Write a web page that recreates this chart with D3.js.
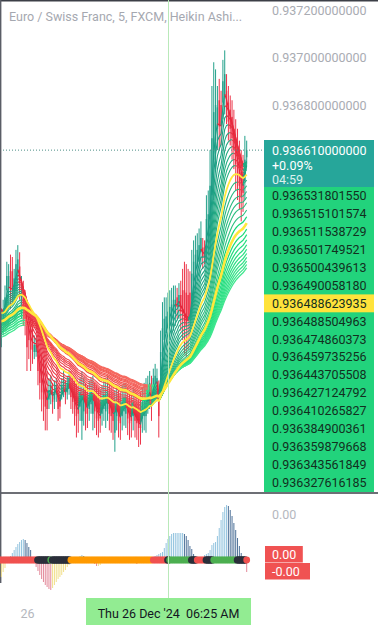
<!DOCTYPE html>
<html lang="en">
<head>
<meta charset="UTF-8">
<title>EURCHF 5m Heikin Ashi</title>
<script src="https://cdn.jsdelivr.net/npm/d3@7"></script>
<style>
body { margin: 0; background: #fff; }
svg { display: block; font-family: Roboto, "Noto Sans", sans-serif; }
</style>
</head>
<body>
<div id="chart"></div>
<script>

// heikin ashi bars, 5 min, first bar 25 Dec 22:45 UTC
var barStart = Date.UTC(2024, 11, 25, 22, 45);
var barMinutes = 5;

var haOpen = [
  0.93584,0.93583,0.93588,0.93594,0.93602,0.93603,0.93610,0.93610,0.93602,0.93607,
  0.93609,0.93612,0.93595,0.93601,0.93597,0.93589,0.93589,0.93586,0.93584,0.93576,
  0.93576,0.93575,0.93571,0.93568,0.93565,0.93562,0.93560,0.93556,0.93558,0.93559,
  0.93556,0.93558,0.93558,0.93558,0.93559,0.93560,0.93561,0.93559,0.93561,0.93563,
  0.93561,0.93559,0.93557,0.93557,0.93553,0.93547,0.93551,0.93558,0.93557,0.93552,
  0.93554,0.93550,0.93558,0.93556,0.93555,0.93555,0.93550,0.93552,0.93551,0.93552,
  0.93558,0.93556,0.93554,0.93542,0.93549,0.93554,0.93553,0.93549,0.93551,0.93550,
  0.93555,0.93554,0.93553,0.93549,0.93554,0.93553,0.93551,0.93552,0.93548,0.93549,
  0.93549,0.93555,0.93557,0.93560,0.93560,0.93562,0.93560,0.93557,0.93566,0.93574,
  0.93581,0.93584,0.93586,0.93587,0.93589,0.93591,0.93592,0.93599,0.93595,0.93600,
  0.93602,0.93602,0.93601,0.93600,0.93601,0.93598,0.93606,0.93609,0.93612,0.93614,
  0.93618,0.93620,0.93620,0.93622,0.93625,0.93632,0.93642,0.93657,0.93665,0.93670,
  0.93682,0.93680,0.93681,0.93684,0.93686,0.93681,0.93678,0.93675,0.93670,0.93665,
  0.93661,0.93656,0.93652,0.93652,0.93648,0.93658
];
var haHigh = [
  0.93596,0.93593,0.93598,0.93604,0.93614,0.93613,0.93617,0.93616,0.93611,0.93619,
  0.93621,0.93618,0.93608,0.93606,0.93602,0.93598,0.93596,0.93594,0.93590,0.93583,
  0.93582,0.93580,0.93577,0.93575,0.93573,0.93571,0.93568,0.93565,0.93566,0.93563,
  0.93564,0.93565,0.93562,0.93563,0.93565,0.93568,0.93564,0.93566,0.93568,0.93568,
  0.93566,0.93565,0.93564,0.93563,0.93565,0.93568,0.93565,0.93563,0.93562,0.93564,
  0.93565,0.93566,0.93563,0.93562,0.93561,0.93560,0.93562,0.93564,0.93565,0.93566,
  0.93563,0.93562,0.93561,0.93560,0.93562,0.93560,0.93559,0.93562,0.93563,0.93563,
  0.93561,0.93560,0.93559,0.93561,0.93560,0.93559,0.93558,0.93559,0.93561,0.93563,
  0.93565,0.93566,0.93568,0.93566,0.93569,0.93571,0.93569,0.93564,0.93585,0.93597,
  0.93599,0.93599,0.93601,0.93602,0.93603,0.93604,0.93604,0.93603,0.93605,0.93606,
  0.93611,0.93614,0.93613,0.93611,0.93610,0.93619,0.93623,0.93625,0.93626,0.93628,
  0.93631,0.93624,0.93623,0.93642,0.93644,0.93661,0.93688,0.93698,0.93695,0.93688,
  0.93691,0.93686,0.93699,0.93703,0.93693,0.93688,0.93684,0.93682,0.93678,0.93674,
  0.93670,0.93665,0.93661,0.93659,0.93667,0.93665
];
var haLow = [
  0.93579,0.93578,0.93583,0.93590,0.93598,0.93599,0.93594,0.93596,0.93598,0.93602,
  0.93604,0.93598,0.93590,0.93587,0.93583,0.93568,0.93573,0.93568,0.93571,0.93573,
  0.93574,0.93562,0.93556,0.93551,0.93547,0.93543,0.93543,0.93552,0.93554,0.93550,
  0.93552,0.93555,0.93547,0.93548,0.93556,0.93557,0.93554,0.93556,0.93558,0.93552,
  0.93550,0.93545,0.93540,0.93542,0.93547,0.93539,0.93545,0.93543,0.93544,0.93547,
  0.93550,0.93543,0.93544,0.93541,0.93540,0.93542,0.93545,0.93547,0.93544,0.93547,
  0.93543,0.93542,0.93539,0.93534,0.93543,0.93540,0.93539,0.93543,0.93545,0.93544,
  0.93541,0.93539,0.93540,0.93543,0.93540,0.93539,0.93536,0.93537,0.93542,0.93543,
  0.93542,0.93550,0.93552,0.93547,0.93556,0.93558,0.93557,0.93540,0.93558,0.93564,
  0.93573,0.93577,0.93579,0.93581,0.93583,0.93585,0.93587,0.93590,0.93590,0.93585,
  0.93581,0.93575,0.93574,0.93577,0.93581,0.93590,0.93598,0.93602,0.93606,0.93608,
  0.93613,0.93611,0.93613,0.93614,0.93617,0.93619,0.93623,0.93640,0.93653,0.93661,
  0.93661,0.93663,0.93674,0.93676,0.93672,0.93665,0.93663,0.93657,0.93653,0.93644,
  0.93640,0.93636,0.93631,0.93635,0.93640,0.93655
];
var haClose = [
  0.93590,0.93588,0.93593,0.93599,0.93608,0.93608,0.93602,0.93602,0.93607,0.93613,
  0.93615,0.93605,0.93602,0.93594,0.93590,0.93578,0.93581,0.93577,0.93577,0.93579,
  0.93579,0.93568,0.93563,0.93559,0.93556,0.93553,0.93552,0.93560,0.93562,0.93555,
  0.93560,0.93562,0.93552,0.93553,0.93562,0.93564,0.93558,0.93563,0.93565,0.93557,
  0.93555,0.93552,0.93549,0.93550,0.93559,0.93558,0.93558,0.93550,0.93550,0.93558,
  0.93560,0.93558,0.93551,0.93548,0.93547,0.93548,0.93556,0.93558,0.93558,0.93559,
  0.93550,0.93549,0.93547,0.93551,0.93555,0.93547,0.93546,0.93555,0.93557,0.93557,
  0.93548,0.93546,0.93547,0.93555,0.93547,0.93546,0.93544,0.93544,0.93555,0.93556,
  0.93557,0.93560,0.93563,0.93554,0.93565,0.93566,0.93565,0.93549,0.93576,0.93586,
  0.93590,0.93591,0.93593,0.93595,0.93596,0.93598,0.93598,0.93595,0.93600,0.93593,
  0.93592,0.93589,0.93587,0.93589,0.93591,0.93609,0.93614,0.93617,0.93619,0.93621,
  0.93624,0.93616,0.93616,0.93632,0.93634,0.93646,0.93666,0.93677,0.93680,0.93679,
  0.93671,0.93671,0.93690,0.93693,0.93679,0.93673,0.93670,0.93666,0.93661,0.93655,
  0.93650,0.93646,0.93641,0.93643,0.93657,0.93661
];

// ema ribbon: periods and the values each line had at the left edge
var fastPeriods = [4, 6, 8, 10, 12, 14, 16, 18, 20, 22, 25, 28, 31, 34, 37, 40, 44];
var fastStart = [0.93599,0.93598,0.93597,0.93596,0.93595,0.93594,0.93593,0.93592,0.93591,
                 0.93590,0.93593,0.93589,0.93588,0.93587,0.93586,0.93585,0.93584];
var fastYellow = 25;
var slowPeriods = [48, 52, 56, 60, 64, 68, 72, 76, 80, 84, 88, 92];
var slowStart = [0.93590,0.93589,0.93588,0.93588,0.93587,0.93586,0.93586,0.93585,
                 0.93584,0.93584,0.93583,0.93582];
var slowYellow = 52;

// values in the right hand label stack
var lastPrice = 0.93661;
var lastChange = "+0.09%";
var countdown = "04:59";
var ribbonLabels = ["0.936531801550","0.936515101574","0.936511538729","0.936501749521",
  "0.936500439613","0.936490058180","0.936488623935","0.936488504963","0.936474860373",
  "0.936459735256","0.936443705508","0.936427124792","0.936410265827","0.936384900361",
  "0.936359879668","0.936343561849","0.936327616185"];
var yellowLabel = "0.936488623935";
var priceTicks = [0.9368, 0.937, 0.9372];

// oscillator histogram (per bar) and state of the zero line dots
var histValues = [
  -22e-6,-17e-6,-12e-6,-8e-6,-3e-6,2e-6,4e-6,7e-6,10e-6,13e-6,
  16e-6,18e-6,20e-6,21e-6,20e-6,17e-6,13e-6,10e-6,3e-6,-3e-6,
  -7e-6,-11e-6,-15e-6,-19e-6,-22e-6,-25e-6,-27e-6,-29e-6,-30e-6,-28e-6,
  -25e-6,-22e-6,-19e-6,-17e-6,-15e-6,-12e-6,-10e-6,-7e-6,-5e-6,-3e-6,
  -1e-6,1e-6,2e-6,3e-6,4e-6,5e-6,4e-6,3e-6,1e-6,0,
  -1e-6,-2e-6,-4e-6,-6e-6,-6e-6,-5e-6,-3e-6,-2e-6,-1e-6,-2e-6,
  -3e-6,-2e-6,-1e-6,-2e-6,-3e-6,-2e-6,-1e-6,0,-1e-6,-2e-6,
  -3e-6,-2e-6,-1e-6,-2e-6,-3e-6,-4e-6,-3e-6,-2e-6,-1e-6,0,
  1e-6,2e-6,2e-6,2e-6,2e-6,4e-6,5e-6,6e-6,7e-6,8e-6,
  12e-6,17e-6,21e-6,24e-6,26e-6,27e-6,27e-6,27e-6,27e-6,27e-6,
  27e-6,26e-6,24e-6,20e-6,14e-6,11e-6,6e-6,2e-6,0,-1e-6,
  1e-6,3e-6,5e-6,6e-6,7e-6,10e-6,15e-6,17e-6,18e-6,24e-6,
  32e-6,40e-6,48e-6,53e-6,55e-6,54e-6,50e-6,44e-6,37e-6,30e-6,
  22e-6,14e-6,7e-6,2e-6,-4e-6,-12e-6
];
var stateRuns = [["red",21],["dark",7],["green",1],["dark",10],["orange",45],["red",8],
  ["dark",1],["green",12],["dark",3],["red",5],["dark",4],["green",13],["dark",5],["red",1]];
var oscTicks = [0.000046];
var oscLabels = ["0.00", "-0.00"];

var crossBar = 92;

var w = 378, h = 625;
var plotW = 264, mainH = 492;

var times = haClose.map(function(d, i) { return new Date(barStart + i * barMinutes * 60000); });
var n = times.length;

var svg = d3.select("#chart").append("svg")
  .attr("width", w)
  .attr("height", h)
  .style("background", "#fff");

var x = d3.scaleUtc()
  .domain([times[0], times[n - 1]])
  .range([-0.5, 246.7]);

var y = d3.scaleLinear()
  .domain([0.9368, 0.9372])
  .range([105, 10]);

var yOsc = d3.scaleLinear()
  .domain([0, 0.000046])
  .range([560, 514]);

svg.append("clipPath").attr("id", "mainclip")
  .append("rect").attr("width", plotW).attr("height", mainH);

var main = svg.append("g").attr("clip-path", "url(#mainclip)");

// title
svg.append("text")
  .attr("x", 9).attr("y", 21)
  .attr("font-size", 12.5)
  .attr("fill", "#a5a8b0")
  .text("Euro / Swiss Franc, 5, FXCM, Heikin Ashi...");

// candles
var upColor = "#22a08a", downColor = "#ec3348";
var bars = haClose.map(function(c, i) {
  return { t: times[i], o: haOpen[i], h: haHigh[i], l: haLow[i], c: c };
});
var candle = main.append("g").selectAll("g").data(bars).enter().append("g");
candle.append("line")
  .attr("x1", function(d) { return x(d.t); })
  .attr("x2", function(d) { return x(d.t); })
  .attr("y1", function(d) { return y(d.h); })
  .attr("y2", function(d) { return y(d.l); })
  .attr("stroke", function(d) { return d.c >= d.o ? upColor : downColor; })
  .attr("stroke-width", 1);
candle.append("rect")
  .attr("x", function(d) { return x(d.t) - 0.7; })
  .attr("width", 1.4)
  .attr("y", function(d) { return y(Math.max(d.o, d.c)); })
  .attr("height", function(d) { return Math.max(1, Math.abs(y(d.o) - y(d.c))); })
  .attr("fill", function(d) { return d.c >= d.o ? upColor : downColor; });

// ribbon
function ema(values, period, start) {
  var k = 2 / (period + 1), prev = start;
  return values.map(function(v) { prev = prev + k * (v - prev); return prev; });
}

var line = d3.line()
  .x(function(d) { return x(times[d[0]]); })
  .y(function(d) { return y(d[1]); });

function drawLine(g, series, up, down, width) {
  var runs = [], cur = null;
  for (var i = 1; i < series.length; i++) {
    var c = series[i] >= series[i - 1] ? up : down;
    if (!cur || cur.color !== c) {
      cur = { color: c, pts: [[i - 1, series[i - 1]]] };
      runs.push(cur);
    }
    cur.pts.push([i, series[i]]);
  }
  g.selectAll(null).data(runs).enter().append("path")
    .attr("d", function(r) { return line(r.pts); })
    .attr("fill", "none")
    .attr("stroke", function(r) { return r.color; })
    .attr("stroke-width", width)
    .attr("stroke-linejoin", "round");
}

function drawGroup(periods, starts, yellowPeriod, upA, upB, downA, downB, width) {
  var g = main.append("g");
  var upScale = d3.interpolateRgb(upA, upB), downScale = d3.interpolateRgb(downA, downB);
  var yellowSeries = null;
  periods.forEach(function(p, j) {
    var s = ema(haClose, p, starts[j]);
    if (p === yellowPeriod) { yellowSeries = s; return; }
    var f = j / (periods.length - 1);
    drawLine(g, s, upScale(f), downScale(f), width);
  });
  return yellowSeries;
}

var ySlow = drawGroup(slowPeriods, slowStart, slowYellow, "#18d878", "#3fe68e", "#f24d4b", "#f56a60", 1.25);
var yFast = drawGroup(fastPeriods, fastStart, fastYellow, "#1b9c84", "#2dc07f", "#e4263b", "#f04a51", 1.1);
var yellowG = main.append("g");
drawLine(yellowG, ySlow, "#ffe83c", "#ffe83c", 2.6);
drawLine(yellowG, yFast, "#ffe83c", "#ffe83c", 1.8);

// last price dotted line
main.append("line")
  .attr("x1", 0).attr("x2", plotW)
  .attr("y1", y(lastPrice)).attr("y2", y(lastPrice))
  .attr("stroke", "#4d8f86")
  .attr("stroke-width", 1)
  .attr("stroke-dasharray", "1,2");

// price axis
var priceAxis = svg.append("g")
  .attr("transform", "translate(272,0)")
  .call(d3.axisRight(y).tickValues(priceTicks).tickFormat(d3.format(".12f")).tickSize(0).tickPadding(0));
priceAxis.select(".domain").remove();
priceAxis.selectAll("text")
  .attr("font-size", 12.5)
  .attr("font-family", "Roboto, sans-serif")
  .attr("fill", "#a9acb3");

// last price box
var lab = svg.append("g");
lab.append("rect").attr("x", 264).attr("y", 140).attr("width", 110).attr("height", 47).attr("fill", "#26a69a");
lab.append("text").attr("x", 272).attr("y", 155).attr("font-size", 12.5).attr("fill", "#fff")
  .text(d3.format(".12f")(lastPrice));
lab.append("text").attr("x", 272).attr("y", 170).attr("font-size", 12.5).attr("fill", "#fff")
  .text(lastChange);
lab.append("text").attr("x", 272).attr("y", 184).attr("font-size", 12.5).attr("fill", "#d9f1ee")
  .text(countdown);

// ribbon label stack
var rowH = 17.9, stackTop = 187;
lab.append("rect").attr("x", 264).attr("y", stackTop).attr("width", 110)
  .attr("height", mainH - stackTop).attr("fill", "#22d37c");
var rows = lab.selectAll("g.row").data(ribbonLabels).enter().append("g")
  .attr("class", "row")
  .attr("transform", function(d, i) { return "translate(264," + (stackTop + i * rowH) + ")"; });
rows.filter(function(d) { return d === yellowLabel; }).append("rect")
  .attr("width", 110).attr("height", rowH).attr("fill", "#ffe33b");
rows.append("text")
  .attr("x", 8).attr("y", rowH / 2).attr("dy", "0.35em")
  .attr("font-size", 12.5)
  .attr("fill", "#12301f")
  .text(function(d) { return d; });

// pane separator and frame
svg.append("line").attr("x1", 0).attr("x2", w).attr("y1", 493).attr("y2", 493)
  .attr("stroke", "#3c3f47").attr("stroke-width", 1.3);
svg.append("line").attr("x1", 0).attr("x2", w).attr("y1", 0.8).attr("y2", 0.8)
  .attr("stroke", "#3c3f47").attr("stroke-width", 1.6);
svg.append("line").attr("x1", 0.7).attr("x2", 0.7).attr("y1", 0).attr("y2", 583)
  .attr("stroke", "#5a5d66").attr("stroke-width", 1.4);

// oscillator histogram
var osc = svg.append("g");
osc.selectAll("line.hist").data(histValues).enter().append("line")
  .attr("class", "hist")
  .attr("x1", function(d, i) { return x(times[i]); })
  .attr("x2", function(d, i) { return x(times[i]); })
  .attr("y1", yOsc(0))
  .attr("y2", function(d) { return yOsc(d); })
  .attr("stroke", function(d, i) {
    var prev = i > 0 ? histValues[i - 1] : d;
    if (d >= 0) return d >= prev ? "#93c4df" : "#4f7299";
    return d < prev ? "#e3899a" : "#f1df8a";
  })
  .attr("stroke-width", 1);

// zero line dots
var stateColor = { red: "#f0514f", dark: "#2b2f3a", green: "#4caf50", orange: "#ff9a00" };
var states = [];
stateRuns.forEach(function(r) { for (var k = 0; k < r[1]; k++) states.push(r[0]); });
osc.selectAll("circle").data(states).enter().append("circle")
  .attr("cx", function(d, i) { return x(times[i]); })
  .attr("cy", yOsc(0))
  .attr("r", function(d) { return d === "dark" ? 3.8 : 3.4; })
  .attr("fill", function(d) { return stateColor[d]; });

var oscAxis = svg.append("g")
  .attr("transform", "translate(272,0)")
  .call(d3.axisRight(yOsc).tickValues(oscTicks).tickFormat(d3.format(".2f")).tickSize(0).tickPadding(0));
oscAxis.select(".domain").remove();
oscAxis.selectAll("text").attr("font-size", 12.5).attr("font-family", "Roboto, sans-serif").attr("fill", "#b4b7be");

var oscBoxes = svg.append("g").selectAll("g").data(oscLabels).enter().append("g")
  .attr("transform", function(d, i) { return "translate(265," + (546 + i * 17) + ")"; });
oscBoxes.append("rect")
  .attr("width", function(d) { return d.length * 7.2 + 9; })
  .attr("height", 16.5)
  .attr("fill", "#f05252");
oscBoxes.append("text")
  .attr("x", 7).attr("y", 8.5).attr("dy", "0.35em")
  .attr("font-size", 12.5).attr("fill", "#fff")
  .text(function(d) { return d; });

// crosshair
var cx = Math.round(x(times[crossBar])) + 0.5;
svg.append("line").attr("x1", cx).attr("x2", cx).attr("y1", 0).attr("y2", 600)
  .attr("stroke", "#b9e9b9").attr("stroke-width", 1);

// time axis
var dayStart = new Date(Date.UTC(2024, 11, 26, 0, 0));
var timeAxis = svg.append("g")
  .attr("transform", "translate(0,607)")
  .call(d3.axisBottom(x).tickValues([dayStart]).tickFormat(d3.utcFormat("%-d")).tickSize(0).tickPadding(0));
timeAxis.select(".domain").remove();
timeAxis.selectAll("text").attr("font-size", 12.5).attr("font-family", "Roboto, sans-serif")
  .attr("fill", "#b4b7be").attr("dy", "0.9em");

var tLabel = svg.append("g");
tLabel.append("rect").attr("x", 86).attr("y", 598).attr("width", 165).attr("height", 30).attr("fill", "#92ec92");
tLabel.append("text")
  .attr("x", cx).attr("y", 614).attr("dy", "0.35em")
  .attr("text-anchor", "middle")
  .attr("font-size", 12.5)
  .attr("fill", "#131722")
  .attr("xml:space", "preserve")
  .text(d3.utcFormat("%a %d %b '%y")(times[crossBar]) + "  " + d3.utcFormat("%I:%M %p")(times[crossBar]));

</script>
</body>
</html>
